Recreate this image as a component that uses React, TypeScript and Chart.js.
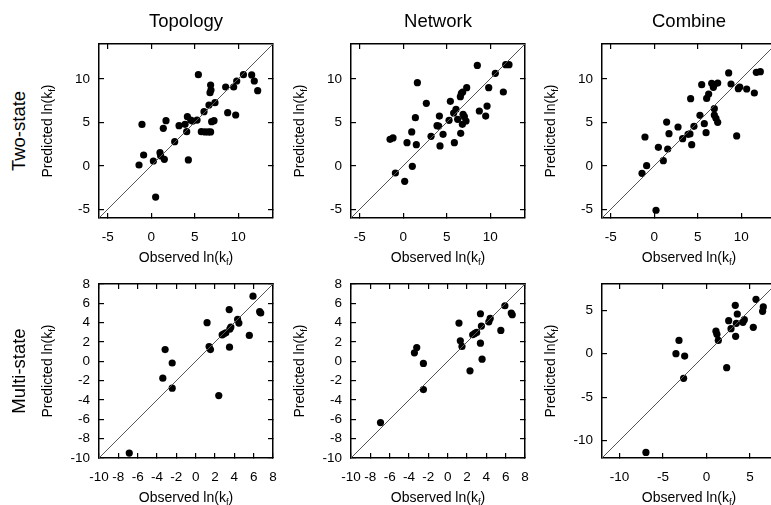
import React, { useEffect, useRef } from "react";
import { Chart, registerables } from "chart.js";

Chart.register(...registerables);

// ---------- labels ----------
const columnTitles = ["Topology", "Network", "Combine"];
const rowTitles = ["Two-state", "Multi-state"];

// ---------- axis ranges & tick values ----------
const twoStateRange = [-6, 14];
const twoStateTicks = [-5, 0, 5, 10];
const multiRange = [-10, 8];
const multiTicks = [-10, -8, -6, -4, -2, 0, 2, 4, 6, 8];
const multiCombineRange = [-12, 8];
const multiCombineTicks = [-10, -5, 0, 5];

// ---------- data: Two-state ----------
const twoTopoObs = [-1.4, -1.06, -0.87, 0.25, 0.51, 1.01, 1.09, 1.51, 1.39, 1.7, 2.7, 3.2, 3.89, 4.08, 4.16, 4.27, 4.54, 4.77, 5.27, 5.42, 5.76, 6.18, 6.56, 6.83, 6.07, 6.64, 6.76, 6.83, 6.87, 6.95, 7.22, 7.33, 8.56, 8.79, 9.48, 9.71, 9.83, 10.6, 11.55, 11.85, 12.24];
const twoTopoPred = [0.09, 4.76, 1.24, 0.55, -3.59, 1.51, 1.13, 0.74, 4.31, 5.19, 2.77, 4.61, 4.77, 3.92, 5.65, 0.67, 5.26, 5.14, 5.26, 10.47, 3.92, 3.89, 3.89, 3.89, 6.22, 6.99, 8.41, 9.29, 8.71, 5.07, 5.19, 7.26, 9.06, 6.11, 9.06, 5.84, 9.75, 10.47, 10.44, 9.75, 8.64];

const twoNetObs = [-1.51, -1.17, -0.9, 0.17, 0.44, 0.98, 1.05, 1.4, 1.51, 1.63, 2.66, 3.2, 3.89, 4.08, 4.16, 4.23, 4.58, 5.27, 5.42, 5.8, 5.88, 6.07, 6.26, 6.57, 6.69, 6.84, 6.61, 6.8, 6.88, 7.03, 7.22, 7.3, 8.52, 8.75, 9.48, 9.64, 9.83, 10.59, 11.51, 11.78, 12.16];
const twoNetPred = [3.04, 3.2, -0.83, -1.79, 2.66, 3.89, -0.06, 5.53, 2.43, 9.56, 7.18, 3.39, 4.61, 4.57, 5.72, 2.28, 3.62, 5.23, 7.41, 6.07, 2.66, 6.49, 5.34, 7.95, 8.33, 8.48, 3.73, 4.77, 5.92, 5.65, 5.15, 8.98, 11.54, 6.3, 5.72, 6.87, 8.98, 10.63, 8.48, 11.62, 11.62];

const twoCombObs = [-1.4, -1.06, -0.87, 0.21, 0.48, 1.05, 1.43, 1.55, 1.7, 2.74, 3.27, 3.89, 4.11, 4.19, 4.31, 4.57, 5.26, 5.46, 5.76, 5.96, 6.03, 6.26, 6.61, 6.88, 6.8, 6.91, 6.91, 7.1, 7.3, 7.3, 8.56, 8.83, 9.48, 9.67, 9.83, 10.63, 11.51, 11.74, 12.2];
const twoCombPred = [-0.87, 3.31, 0.02, -5.11, 2.12, 0.59, 5.03, 1.93, 3.69, 4.46, 3.12, 3.62, 3.66, 7.72, 2.43, 4.54, 5.8, 9.33, 4.84, 3.81, 7.75, 8.25, 9.48, 9.33, 9.02, 6.57, 5.84, 5.46, 5.0, 9.51, 10.67, 9.4, 3.43, 8.87, 9.06, 8.83, 8.37, 10.74, 10.82];

// ---------- data: Multi-state ----------
const multiTopoObs = [-6.87, -3.4, -3.16, -2.43, -2.43, 1.18, 1.39, 1.53, 2.39, 2.74, 2.91, 3.12, 3.47, 3.5, 3.54, 3.64, 4.34, 4.47, 5.55, 5.93, 6.62, 6.73];
const multiTopoPred = [-9.49, -1.74, 1.22, -0.17, -2.78, 4.0, 1.53, 1.22, -3.54, 2.74, 2.85, 2.95, 5.35, 1.46, 3.34, 3.54, 4.34, 3.96, 2.68, 6.74, 5.14, 5.0];

const multiNetObs = [-6.95, -3.44, -3.2, -2.51, -2.51, 1.17, 1.31, 1.48, 2.31, 2.59, 2.8, 3.0, 3.39, 3.39, 3.49, 3.56, 4.26, 4.4, 5.5, 5.92, 6.58, 6.68];
const multiNetPred = [-6.34, 0.88, 1.43, -0.22, -2.92, 3.96, 2.13, 1.54, -0.98, 2.75, 2.89, 2.99, 4.92, 1.88, 3.65, 0.22, 4.09, 4.44, 3.2, 5.75, 4.99, 4.82];

const multiCombObs = [-6.95, -3.5, -3.15, -2.5, -2.62, 1.1, 1.21, 1.37, 2.33, 2.56, 2.83, 3.32, 3.36, 3.44, 3.55, 4.2, 4.36, 5.39, 5.7, 6.54, 6.46];
const multiCombPred = [-11.36, -0.01, 1.52, -0.28, -2.84, 2.58, 2.21, 1.52, -1.62, 3.79, 2.87, 5.55, 1.98, 3.48, 4.55, 3.59, 3.9, 3.02, 6.24, 5.36, 4.86];

// ---------- layout ----------
const colLefts = [99, 351, 602];
const rowTops = [44, 284];
const PLOT = 174;
const PAD_L = 60;
const PAD_T = 30;
const PAD_R = 30;
const PAD_B = 50;
const TICK_IN = 5;
const FONT = "'Liberation Sans', Arial, Helvetica, sans-serif";

type Panel = {
  obs: number[];
  pred: number[];
  range: number[];
  ticks: number[];
  row: number;
  col: number;
};

const panels: Panel[] = [
  { obs: twoTopoObs, pred: twoTopoPred, range: twoStateRange, ticks: twoStateTicks, row: 0, col: 0 },
  { obs: twoNetObs, pred: twoNetPred, range: twoStateRange, ticks: twoStateTicks, row: 0, col: 1 },
  { obs: twoCombObs, pred: twoCombPred, range: twoStateRange, ticks: twoStateTicks, row: 0, col: 2 },
  { obs: multiTopoObs, pred: multiTopoPred, range: multiRange, ticks: multiTicks, row: 1, col: 0 },
  { obs: multiNetObs, pred: multiNetPred, range: multiRange, ticks: multiTicks, row: 1, col: 1 },
  { obs: multiCombObs, pred: multiCombPred, range: multiCombineRange, ticks: multiCombineTicks, row: 1, col: 2 },
];

function makeAxis(
  axis: "x" | "y",
  position: string,
  p: Panel,
  showLabels: boolean,
  size: number
) {
  const [lo, hi] = p.range;
  return {
    type: "linear",
    axis,
    position,
    min: lo,
    max: hi,
    border: { display: true, color: "#000", width: 1.5 },
    grid: {
      display: true,
      drawOnChartArea: false,
      drawTicks: true,
      tickLength: -TICK_IN,
      color: "#000",
      lineWidth: 1.2,
    },
    afterBuildTicks: (s: any) => {
      s.ticks = p.ticks.map((v) => ({ value: v }));
    },
    afterFit: (s: any) => {
      if (axis === "x") s.height = size;
      else s.width = size;
    },
    ticks: {
      display: showLabels,
      autoSkip: false,
      maxRotation: 0,
      minRotation: 0,
      padding: axis === "x" ? 11 + TICK_IN : 9 + TICK_IN,
      color: "#000",
      font: { family: FONT, size: 13.5 },
      callback: (v: any) => String(v),
    },
  };
}

function ScatterPanel({ p }: { p: Panel }) {
  const ref = useRef<HTMLCanvasElement | null>(null);
  useEffect(() => {
    if (!ref.current) return;
    const pts = p.obs.map((v, i) => ({ x: v, y: p.pred[i] }));
    const [lo, hi] = p.range;
    const chart = new Chart(ref.current, {
      type: "scatter",
      data: {
        datasets: [
          {
            data: [
              { x: lo, y: lo },
              { x: hi, y: hi },
            ],
            xAxisID: "x",
            yAxisID: "y",
            showLine: true,
            borderColor: "#555",
            borderWidth: 1,
            pointRadius: 0,
          },
          {
            data: pts,
            xAxisID: "x",
            yAxisID: "y",
            backgroundColor: "#000",
            borderWidth: 0,
            pointRadius: 3.6,
            pointHoverRadius: 3.6,
          },
        ],
      },
      options: {
        responsive: false,
        maintainAspectRatio: false,
        animation: false,
        events: [],
        layout: { padding: { left: 0, top: PAD_T, right: PAD_R, bottom: 0 } },
        plugins: { legend: { display: false }, tooltip: { enabled: false } },
        scales: {
          x: makeAxis("x", "bottom", p, true, PAD_B),
          y: makeAxis("y", "left", p, true, PAD_L),
          x2: makeAxis("x", "top", p, false, 0),
          y2: makeAxis("y", "right", p, false, 0),
        },
      },
    } as any);
    return () => chart.destroy();
  }, [p]);
  const w = PAD_L + PLOT + PAD_R;
  const h = PAD_T + PLOT + PAD_B;
  return (
    <canvas
      ref={ref}
      width={w}
      height={h}
      style={{
        position: "absolute",
        left: colLefts[p.col] - PAD_L,
        top: rowTops[p.row] - PAD_T,
        width: w,
        height: h,
      }}
    />
  );
}

function LnK({ label }: { label: string }) {
  return (
    <span>
      {label} ln(k
      <span style={{ fontSize: "0.68em", position: "relative", top: "0.32em" }}>f</span>)
    </span>
  );
}

export default function App() {
  const textBase: React.CSSProperties = {
    position: "absolute",
    fontFamily: FONT,
    color: "#000",
    whiteSpace: "nowrap",
    lineHeight: 1,
  };
  return (
    <div
      style={{
        position: "fixed",
        left: 0,
        top: 0,
        width: 771,
        height: 505,
        overflow: "hidden",
        background: "#fff",
      }}
    >
      {panels.map((p, i) => (
        <ScatterPanel key={i} p={p} />
      ))}
      {columnTitles.map((t, c) => (
        <div
          key={"ct" + c}
          style={{
            ...textBase,
            fontSize: 18.5,
            left: colLefts[c] + PLOT / 2,
            top: 21,
            transform: "translate(-50%, -50%)",
          }}
        >
          {t}
        </div>
      ))}
      {rowTitles.map((t, r) => (
        <div
          key={"rt" + r}
          style={{
            ...textBase,
            fontSize: 18.5,
            left: 18.5,
            top: rowTops[r] + PLOT / 2,
            transform: "translate(-50%, -50%) rotate(-90deg)",
          }}
        >
          {t}
        </div>
      ))}
      {rowTops.map((top, r) =>
        colLefts.map((left, c) => (
          <React.Fragment key={"ax" + r + c}>
            <div
              style={{
                ...textBase,
                fontSize: 14,
                left: left + PLOT / 2,
                top: top + PLOT + 39,
                transform: "translate(-50%, -50%)",
              }}
            >
              <LnK label="Observed" />
            </div>
            <div
              style={{
                ...textBase,
                fontSize: 14,
                left: left - 52,
                top: top + PLOT / 2,
                transform: "translate(-50%, -50%) rotate(-90deg)",
              }}
            >
              <LnK label="Predicted" />
            </div>
          </React.Fragment>
        ))
      )}
    </div>
  );
}
